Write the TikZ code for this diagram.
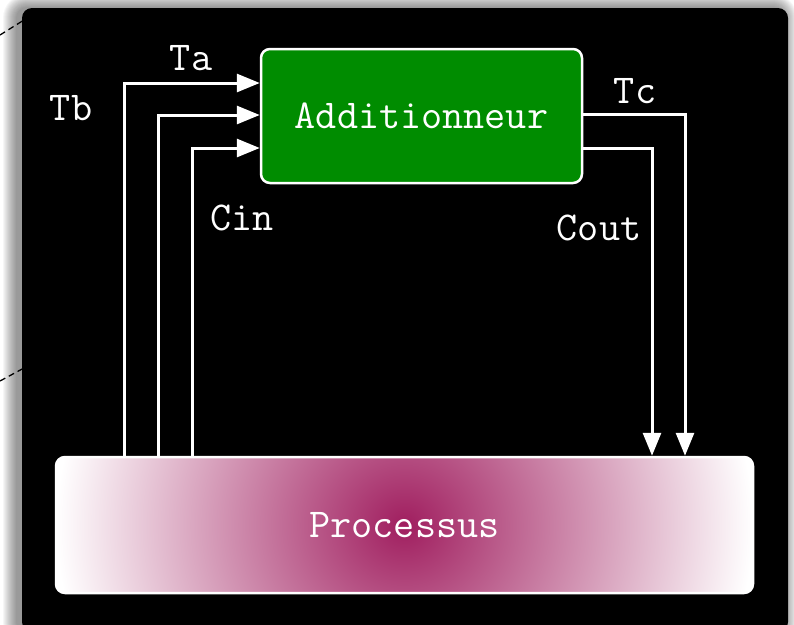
\documentclass[tikz,border=0pt]{standalone}
\usepackage{fontspec}
\usetikzlibrary{arrows.meta,calc}
\definecolor{pmag}{RGB}{160,30,95}
\definecolor{addgreen}{RGB}{0,140,0}
\pgfdeclareradialshading{procshade}{\pgfpoint{0bp}{0bp}}{color(0bp)=(pmag); color(25bp)=(white); color(50bp)=(white)}
\begin{document}
\begin{tikzpicture}[x=1pt,y=-1pt,
  txt/.style={text=white, font=\fontsize{41}{41}\selectfont\ttfamily, inner sep=0pt},
  lbl/.style={txt, anchor=base},
  arr/.style={draw=white, line width=3pt, -{Triangle[length=23pt,width=18pt]}},
  box/.style={draw=white, line width=2.5pt, rounded corners=9pt, txt}]
\useasboundingbox (0,0) rectangle (794,624);
\clip (0,0) rectangle (794,624);
% shadow
\foreach \i in {1,...,14}{
  \fill[black, opacity=0.035, rounded corners=10pt+\i pt] (22-\i-5,8-\i) rectangle (788+\i-5,632+\i);
}
% dashed lines
\coordinate (d1a) at (0,35); \coordinate (d1b) at (24,20);
\coordinate (d2a) at (0,381); \coordinate (d2b) at (24,368);
\draw[black, line width=1.3pt, dash pattern=on 6pt off 4pt] (d1a) -- (d1b);
\draw[black, line width=1.3pt, dash pattern=on 6pt off 4pt] (d2a) -- (d2b);
% background
\fill[black, rounded corners=10pt] (22,8) rectangle (788,632);
% nodes
\node[box, fill=addgreen, minimum width=321pt, minimum height=134pt] (add) at (421.5,116) {Additionneur};
\node[box, minimum width=697pt, minimum height=136pt,
  path picture={\shade[shading=procshade] ([yshift=-260pt]path picture bounding box.south west) rectangle ([yshift=260pt]path picture bounding box.north east);}]
  (proc) at (404.5,525) {Processus};
% vertical line coordinates
\coordinate (xa) at (124,0);
\coordinate (xb) at (158,0);
\coordinate (xc) at (192,0);
\coordinate (xd) at (652,0);
\coordinate (xe) at (685,0);
% connectors
\draw[arr] (xa |- proc.north) |- ([yshift=33pt]add.west);
\draw[arr] (xb |- proc.north) |- ([yshift=1pt]add.west);
\draw[arr] (xc |- proc.north) |- ([yshift=-32pt]add.west);
\draw[arr] ([yshift=2pt]add.east) -| (xe |- proc.north);
\draw[arr] ([yshift=-32pt]add.east) -| (xd |- proc.north);
% labels
\node[lbl] (ta) at (191,70) {Ta};
\node[lbl] (tb) at (71,120) {Tb};
\node[lbl] (cin) at (242,230) {Cin};
\node[lbl] (tc) at (635,103) {Tc};
\node[lbl] (cout) at (599,240) {Cout};
\end{tikzpicture}
\end{document}
